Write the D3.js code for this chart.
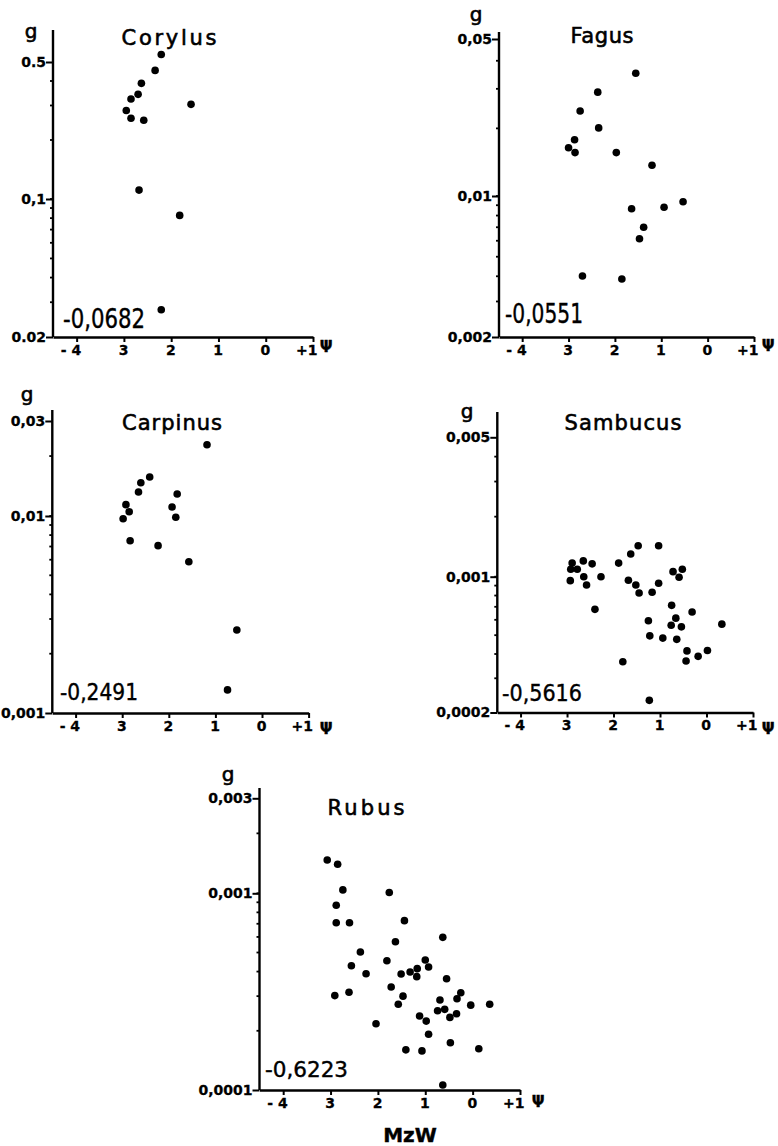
<!DOCTYPE html>
<html>
<head>
<meta charset="utf-8">
<script src="https://cdn.jsdelivr.net/npm/d3@7"></script>
<style>
  body { margin: 0; background: #fff; }
  svg { display: block; }
  text { fill: #000; }
</style>
</head>
<body>
<div id="graph"></div>
<script>
// x axis (water potential), same for every panel
var xTickValues = [-4, -3, -2, -1, 0, 1];
var xTickLabels = ["- 4", "3", "2", "1", "0", "+1"];

// Corylus
var corylusX = [-2.21, -2.34, -2.63, -2.70, -2.85, -1.58, -2.95, -2.85, -2.58, -2.68, -1.82, -2.21];
var corylusG = [0.546, 0.453, 0.389, 0.342, 0.324, 0.304, 0.283, 0.258, 0.252, 0.111, 0.0826, 0.0275];
var corylusYTicks = [0.02, 0.1, 0.5];
var corylusYLabels = ["0.02", "0,1", "0.5"];

// Fagus
var fagusX = [-1.55, -2.37, -2.75, -2.35, -2.87, -3.00, -2.86, -1.97, -1.20, -0.53, -0.94, -1.64, -1.38, -1.47, -2.70, -1.85];
var fagusG = [0.0352, 0.0290, 0.0239, 0.0201, 0.0178, 0.0164, 0.0156, 0.0156, 0.0137, 0.00937, 0.00879, 0.00865, 0.0070, 0.00614, 0.00401, 0.00388];
var fagusYTicks = [0.002, 0.01, 0.05];
var fagusYLabels = ["0,002", "0,01", "0,05"];

// Carpinus
var carpinusX = [-1.18, -2.41, -2.60, -2.65, -1.82, -2.92, -1.93, -2.85, -2.98, -1.85, -2.83, -2.23, -1.57, -0.54, -0.74];
var carpinusG = [0.0228, 0.0157, 0.0147, 0.0132, 0.0129, 0.0114, 0.0111, 0.0105, 0.00969, 0.00985, 0.00749, 0.00707, 0.00586, 0.00264, 0.00131];
var carpinusYTicks = [0.001, 0.01, 0.03];
var carpinusYLabels = ["0,001", "0,01", "0,03"];

// Sambucus
var sambucusX = [-1.47, -1.03, -1.63, -1.89, -2.89, -2.65, -2.46, -2.92, -2.78, -2.93, -2.64, -2.58, -2.27, -1.68, -1.52, -1.45, -1.17, -1.03, -0.72, -0.52, -0.59, -2.40, -0.75, -0.31, -1.25, -0.66, -0.76, -0.54, 0.33, -1.22, -0.94, -0.64, -0.42, 0.02, -0.18, -0.44, -1.80, -1.23];
var sambucusG = [0.00143, 0.00143, 0.00130, 0.00117, 0.00117, 0.00120, 0.00116, 0.00109, 0.00109, 0.000954, 0.00100, 0.000906, 0.00100, 0.000958, 0.000906, 0.000824, 0.000831, 0.000925, 0.00106, 0.00109, 0.000993, 0.000679, 0.000712, 0.000658, 0.000593, 0.000612, 0.000562, 0.000552, 0.000570, 0.000496, 0.000483, 0.000476, 0.000415, 0.000417, 0.000389, 0.000368, 0.000365, 0.000231];
var sambucusYTicks = [0.0002, 0.001, 0.005];
var sambucusYLabels = ["0,0002", "0,001", "0,005"];

// Rubus
var rubusX = [-3.07, -2.85, -2.74, -1.76, -2.88, -2.88, -2.60, -1.44, -0.63, -1.63, -2.37, -1.81, -1.00, -2.56, -0.93, -1.32, -1.17, -1.18, -1.51, -2.25, -0.55, -1.72, -2.91, -2.61, -1.47, -0.25, -0.33, -0.69, -1.57, -0.04, 0.36, -0.74, -0.59, -0.34, -0.48, -1.12, -0.98, -2.04, -0.93, -0.47, -1.41, -1.07, 0.13, -0.63];
var rubusG = [0.00147, 0.00140, 0.00104, 0.00101, 0.000869, 0.000709, 0.000709, 0.000726, 0.000597, 0.000567, 0.000503, 0.000454, 0.000458, 0.000428, 0.000422, 0.000398, 0.000414, 0.000377, 0.000389, 0.000390, 0.000368, 0.000334, 0.000302, 0.000314, 0.000300, 0.000312, 0.000291, 0.000287, 0.000273, 0.000270, 0.000273, 0.000253, 0.000257, 0.000244, 0.000234, 0.000238, 0.000224, 0.000217, 0.000192, 0.000174, 0.000160, 0.000158, 0.000162, 0.000106];
var rubusYTicks = [0.0001, 0.001, 0.003];
var rubusYLabels = ["0,0001", "0,001", "0,003"];

var names = ["Corylus", "Fagus", "Carpinus", "Sambucus", "Rubus"];
var coefficients = ["-0,0682", "-0,0551", "-0,2491", "-0,5616", "-0,6223"];

// where each panel sits on the page
var layout = [
  { left: 53,    right: 313, bottom: 337,  top: 30,  yRange: [337, 199, 62],
    title: [169, 45, 95], g: [31, 38], coef: [63, 328, 82, 26], psi: [326, 352] },
  { left: 499,   right: 754, bottom: 337,  top: 32,  yRange: [337, 196, 39],
    title: [602, 43, 63], g: [476, 21], coef: [505, 323, 78, 26], psi: [768, 351] },
  { left: 52.3,  right: 308.6, bottom: 713, top: 410, yRange: [713, 516, 421],
    title: [172, 430, 100], g: [27, 401], coef: [60, 700, 78, 23], psi: [326, 734] },
  { left: 497.3, right: 753, bottom: 712.5, top: 412, yRange: [712.5, 576.7, 437.3],
    title: [623, 430, 117], g: [467, 418], coef: [502, 701, 80, 23], psi: [768, 734] },
  { left: 259.5, right: 520, bottom: 1090, top: 788, yRange: [1090, 893.3, 798.3],
    title: [366, 815, 77], g: [228, 781], coef: [265, 1077, 83, 21], psi: [538, 1107] }
];

var series = [
  { x: corylusX, g: corylusG, ticks: corylusYTicks, labels: corylusYLabels },
  { x: fagusX, g: fagusG, ticks: fagusYTicks, labels: fagusYLabels },
  { x: carpinusX, g: carpinusG, ticks: carpinusYTicks, labels: carpinusYLabels },
  { x: sambucusX, g: sambucusG, ticks: sambucusYTicks, labels: sambucusYLabels },
  { x: rubusX, g: rubusG, ticks: rubusYTicks, labels: rubusYLabels }
];

var font = "'DejaVu Sans', sans-serif";

var svg = d3.select("#graph").append("svg")
  .attr("width", 778)
  .attr("height", 1146)
  .style("background", "#fff");

function minorTicks(lo, hi) {
  var out = [];
  for (var e = Math.floor(Math.log10(lo)); e <= Math.ceil(Math.log10(hi)); e++) {
    for (var k = 1; k <= 9; k++) {
      var v = k * Math.pow(10, e);
      if (v > lo * 1.0001 && v < hi * 0.9999) out.push(v);
    }
  }
  return out;
}

// thicker strokes on text, like the scanned lettering
function ink(sel, w) {
  return sel.attr("fill", "#000").attr("stroke", "#000").attr("stroke-width", w);
}

function drawPanel(i) {
  var p = layout[i], s = series[i];
  var x = d3.scaleLinear().domain([-4.5, 1]).range([p.left, p.right]);
  var y = d3.scaleLog().domain(s.ticks).range(p.yRange);
  var panel = svg.append("g");

  // x axis
  var xa = panel.append("g")
    .attr("transform", "translate(0," + p.bottom + ")")
    .call(d3.axisBottom(x).tickValues(xTickValues)
      .tickFormat(function(d, j) { return xTickLabels[j]; })
      .tickSize(5).tickSizeOuter(0));
  xa.select(".domain").attr("stroke-width", 2.4);
  xa.selectAll(".tick line").attr("stroke-width", 2);
  ink(xa.selectAll(".tick text"), 0.3)
    .attr("y", 8)
    .attr("dy", "0.71em")
    .attr("text-anchor", "end")
    .attr("dx", 4)
    .attr("font-family", font)
    .attr("font-weight", "bold")
    .attr("font-size", 14);

  // y axis
  panel.append("line")
    .attr("x1", p.left).attr("x2", p.left)
    .attr("y1", p.bottom).attr("y2", p.top)
    .attr("stroke", "#000").attr("stroke-width", 2.4);

  var ya = panel.append("g")
    .attr("transform", "translate(" + p.left + ",0)")
    .call(d3.axisLeft(y).tickValues(s.ticks)
      .tickFormat(function(d, j) { return s.labels[j]; })
      .tickSize(7).tickSizeOuter(0));
  ya.select(".domain").remove();
  ya.selectAll(".tick line").attr("stroke-width", 2);
  ink(ya.selectAll(".tick text"), 0.3)
    .attr("x", -7)
    .attr("font-family", font)
    .attr("font-weight", "bold")
    .attr("font-size", 14);

  panel.selectAll(".minor")
    .data(minorTicks(s.ticks[0], s.ticks[s.ticks.length - 1]))
    .enter().append("line")
    .attr("x1", p.left - 3).attr("x2", p.left)
    .attr("y1", function(d) { return y(d); })
    .attr("y2", function(d) { return y(d); })
    .attr("stroke", "#000").attr("stroke-width", 1.8);

  // points
  panel.selectAll("circle")
    .data(s.x)
    .enter().append("circle")
    .attr("cx", function(d) { return x(d); })
    .attr("cy", function(d, j) { return y(s.g[j]); })
    .attr("r", 3.8)
    .attr("fill", "#000");

  // texts
  ink(panel.append("text"), 0.6)
    .attr("x", p.title[0] - p.title[2] / 2).attr("y", p.title[1])
    .attr("textLength", p.title[2])
    .attr("font-family", font).attr("font-size", 21)
    .text(names[i]);

  ink(panel.append("text"), 0.6)
    .attr("x", p.g[0]).attr("y", p.g[1])
    .attr("text-anchor", "middle")
    .attr("font-family", font).attr("font-size", 20)
    .text("g");

  ink(panel.append("text"), 0.4)
    .attr("x", p.coef[0]).attr("y", p.coef[1])
    .attr("textLength", p.coef[2])
    .attr("lengthAdjust", "spacingAndGlyphs")
    .attr("font-family", font).attr("font-size", p.coef[3])
    .text(coefficients[i]);

  ink(panel.append("text"), 0.3)
    .attr("x", p.psi[0]).attr("y", p.psi[1])
    .attr("text-anchor", "middle")
    .attr("font-family", font).attr("font-weight", "bold").attr("font-size", 15)
    .text("Ψ");
}

for (var i = 0; i < layout.length; i++) drawPanel(i);

ink(svg.append("text"), 0.4)
  .attr("x", 410).attr("y", 1142)
  .attr("text-anchor", "middle")
  .attr("font-family", font).attr("font-weight", "bold").attr("font-size", 20)
  .text("MzW");
</script>
</body>
</html>
